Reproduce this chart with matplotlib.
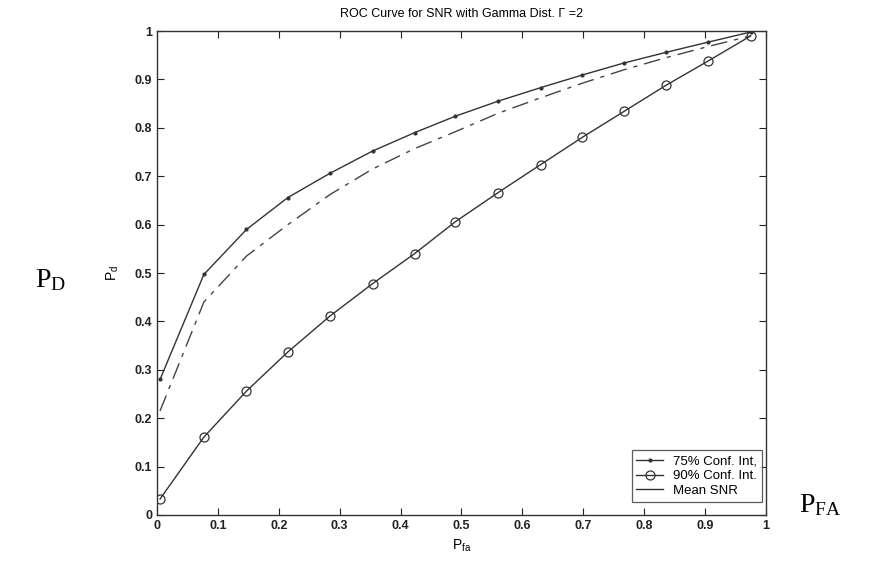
import matplotlib
matplotlib.use("Agg")
import matplotlib.pyplot as plt

plt.rcParams["font.family"] = ["Liberation Sans", "DejaVu Sans"]
plt.rcParams["mathtext.fontset"] = "custom"
plt.rcParams["mathtext.rm"] = "Liberation Serif"
plt.rcParams["mathtext.sf"] = "Liberation Sans"

# values
pfa = [0.005, 0.077, 0.147, 0.215, 0.284, 0.354, 0.423, 0.49, 0.56,
       0.63, 0.698, 0.767, 0.836, 0.905, 0.975]
pd_75 = [0.28, 0.497, 0.59, 0.656, 0.706, 0.752, 0.79, 0.824, 0.855,
         0.883, 0.909, 0.934, 0.956, 0.977, 0.998]
pd_90 = [0.033, 0.161, 0.256, 0.337, 0.411, 0.478, 0.54, 0.606, 0.666,
         0.724, 0.78, 0.834, 0.888, 0.938, 0.99]
pd_mean = [0.215, 0.44, 0.535, 0.60, 0.662, 0.715, 0.757, 0.792, 0.83,
           0.862, 0.892, 0.92, 0.945, 0.968, 0.99]

fig = plt.figure(figsize=(8.75, 5.61), dpi=100)
ax = fig.add_axes([0.1794, 0.082, 0.696, 0.8627])

c = "#333333"
ax.plot(pfa, pd_75, color=c, lw=1.0, marker=".", ms=4, label="75% Conf. Int,")
ax.plot(pfa, pd_90, color=c, lw=1.0, marker="o", ms=6.5, mfc="none", mew=0.9,
        label="90% Conf. Int.")
mean_line, = ax.plot(pfa, pd_mean, color="#444444", lw=1.0,
                     linestyle=(0, (12, 5, 3, 5)))

ax.set_xlim(0, 1)
ax.set_ylim(0, 1)
ticks = [0, 0.1, 0.2, 0.3, 0.4, 0.5, 0.6, 0.7, 0.8, 0.9, 1]
ax.set_xticks(ticks)
ax.set_yticks(ticks)
ax.set_xticklabels(["0", "0.1", "0.2", "0.3", "0.4", "0.5", "0.6", "0.7", "0.8", "0.9", "1"])
ax.set_yticklabels(["0", "0.1", "0.2", "0.3", "0.4", "0.5", "0.6", "0.7", "0.8", "0.9", "1"])
ax.tick_params(direction="in", top=True, right=True, length=5, width=0.8,
               labelsize=9, colors="#222222")
for lbl in ax.get_xticklabels() + ax.get_yticklabels():
    lbl.set_fontweight("bold")
for s in ax.spines.values():
    s.set_color("#333333")
    s.set_linewidth(1.0)

ax.set_title("ROC Curve for SNR with Gamma Dist. Γ =2", fontsize=9, pad=10)
ax.set_xlabel(r"P$_{\mathsf{fa}}$", fontsize=10, labelpad=4)
ax.set_ylabel(r"P$_{\mathsf{d}}$", fontsize=10, labelpad=10)

legend_handles = ax.get_lines()[:2] + [plt.Line2D([], [], color=c, lw=1.0)]
leg = ax.legend(legend_handles, ["75% Conf. Int,", "90% Conf. Int.", "Mean SNR"],
                loc="lower right", fontsize=9.5, frameon=True, fancybox=False,
                handlelength=2.0, borderpad=0.35, labelspacing=0.2,
                bbox_to_anchor=(1.004, 0.014))
leg.get_frame().set_edgecolor("#333333")
leg.get_frame().set_linewidth(0.9)

fig.text(0.04, 0.50, r"$\mathrm{P_D}$", fontsize=20, va="center")
fig.text(0.913, 0.10, r"$\mathrm{P_{FA}}$", fontsize=20, va="center")

fig.savefig("out.png", dpi=100)
